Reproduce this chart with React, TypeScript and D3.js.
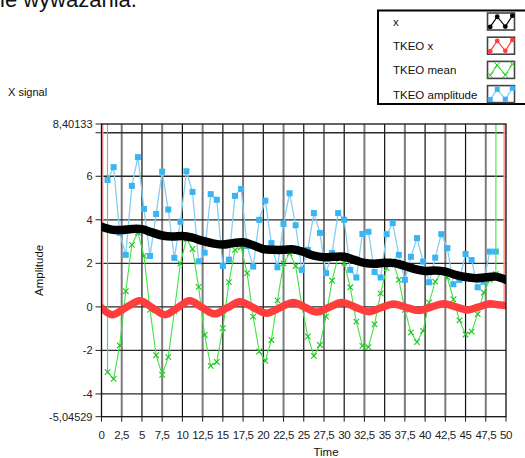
import React, { useEffect, useRef } from "react";
import * as d3 from "d3";

const W = 525;
const H = 458;
// plot area in page pixels
const PL = 101.5, PR = 506, PT = 124, PB = 416.7;

const yMin = -5.04529;
const yMax = 8.40133;

const xTicks = [0, 2.5, 5, 7.5, 10, 12.5, 15, 17.5, 20, 22.5, 25, 27.5, 30, 32.5, 35, 37.5, 40, 42.5, 45, 47.5, 50];
const yTicks = [-5.04529, -4, -2, 0, 2, 4, 6, 8, 8.40133];
const yTickLabels = ["-5,04529", "-4", "-2", "0", "2", "4", "6", "", "8,40133"];

const legendNames = ["x", "TKEO x", "TKEO mean", "TKEO amplitude"];

// x signal, sampled every 1.25 s
const X_STEP = 1.25;
const xSignal = [
  3.68, 3.55, 3.53, 3.58, 3.57, 3.42, 3.28, 3.23, 3.26, 3.18,
  3.03, 2.92, 2.86, 2.93, 2.97, 2.83, 2.65, 2.62, 2.62, 2.64,
  2.52, 2.35, 2.28, 2.3, 2.3, 2.16, 2.02, 1.98, 2.03, 2.01,
  1.88, 1.73, 1.65, 1.67, 1.62, 1.47, 1.37, 1.32, 1.36, 1.39,
  1.24,
];

// TKEO x (read at its peaks, troughs and crossings)
const tkeoXTime = [
  0, 1.3, 3.0, 4.75, 6.3, 7.85, 9.4, 10.9, 12.45, 14.0, 15.55, 17.1, 18.75, 20.4, 22.05, 23.7, 25.15,
  26.6, 28.15, 29.7, 31.35, 33.0, 34.55, 36.1, 37.65, 39.2, 40.75, 42.3, 43.8, 45.3, 46.65, 48.0, 49.0, 49.8,
];
const tkeoX = [
  -0.05, -0.36, -0.04, 0.28, -0.04, -0.36, -0.04, 0.28, -0.03, -0.32, -0.04, 0.24, -0.03, -0.29, -0.04, 0.2, -0.02,
  -0.24, -0.02, 0.2, -0.01, -0.22, -0.04, 0.13, -0.02, -0.17, -0.01, 0.14, 0.0, -0.14, 0.0, 0.14, 0.1, 0.06,
];
// edge values of TKEO x run off the top of the scale
const tkeoXEdges = [0, 49.8];

// TKEO mean / amplitude, sampled every 0.75 s
const TKEO_STEP = 0.75;
const tkeoMean = [
  1000,
  -3.0, -3.31, -1.77, 0.72, 2.85, 3.41, 2.34, -0.14, -2.22, -3.12,
  -2.31, -0.2, 2.0, 3.11, 2.66, 0.92, -1.29, -2.71, -2.53, -0.98,
  1.14, 2.62, 2.74, 1.55, -0.45, -2.05, -2.48, -1.52, 0.3, 2.0,
  2.47, 1.88, 0.09, -1.36, -2.25, -1.75, -0.45, 1.21, 2.31, 2.02,
  0.9, -0.68, -1.79, -1.85, -0.8, 0.62, 1.78, 2.1, 1.24, -0.14,
  -1.17, -1.62, -1.1, 0.2, 1.16, 1.6, 1.35, 0.35, -0.62, -1.27,
  -1.14, -0.33, 0.66, 1.24, 1.5,
  1000,
];
const tkeoAmplitude = [
  5.83, 6.42, 3.4, 2.39, 5.56, 6.88, 4.5, 2.34, 4.27, 6.21,
  4.47, 2.25, 3.91, 6.23, 5.28, 2.09, 2.49, 5.18, 4.92, 1.88,
  2.17, 5.1, 5.42, 2.8, 1.85, 4.0, 4.88, 2.93, 1.82, 3.81,
  5.22, 3.75, 1.7, 2.62, 4.31, 3.4, 1.55, 2.48, 4.31, 4.0,
  1.7, 1.35, 3.35, 3.45, 1.6, 1.35, 3.34, 3.85, 2.39, 1.24,
  2.3, 3.16, 2.08, 1.13, 2.26, 3.34, 2.7, 1.04, 1.24, 2.43,
  2.15, 0.9, 1.16, 2.54, 2.54,
];

const FONT = "'Liberation Sans', Arial, sans-serif";
const C_BLACK = "#000000";
const C_RED = "#ff3d3d";
const C_PINK = "#ff9c9c";
const C_GREEN = "#3fe43f";
const C_GREEN_MK = "#22c422";
const C_BLUE = "#85cff3";
const C_BLUE_MK = "#3ab5f3";

export default function App() {
  const ref = useRef<SVGSVGElement | null>(null);

  useEffect(() => {
    const svg = d3.select(ref.current);
    svg.selectAll("*").remove();

    const x = d3.scaleLinear().domain([0, 50]).range([PL, PR]);
    const y = d3.scaleLinear().domain([yMin, yMax]).range([PB, PT]);

    // partial title cut at the top (as in the screenshot)
    svg.append("text")
      .attr("x", 0).attr("y", 6.5)
      .attr("font-family", FONT).attr("font-size", 22).attr("fill", "#111")
      .text("ie wyważania.");

    svg.append("text")
      .attr("x", 8).attr("y", 96)
      .attr("font-family", FONT).attr("font-size", 11).attr("fill", "#111")
      .text("X signal");

    svg.append("defs").append("clipPath").attr("id", "plotclip")
      .append("rect").attr("x", PL).attr("y", PT).attr("width", PR - PL).attr("height", PB - PT);

    svg.append("rect")
      .attr("x", PL).attr("y", PT).attr("width", PR - PL).attr("height", PB - PT)
      .attr("fill", "#ffffff");

    // grid
    const grid = svg.append("g");
    xTicks.forEach((t) => {
      if (t === 0 || t === 50) return;
      const major = t % 5 === 0;
      grid.append("line")
        .attr("x1", x(t)).attr("x2", x(t)).attr("y1", PT).attr("y2", PB)
        .attr("stroke", major ? "#111" : "#7c7c7c")
        .attr("stroke-width", major ? 1.2 : 2);
    });
    yTicks.forEach((v) => {
      if (v === yMin || v === yMax) return;
      grid.append("line")
        .attr("x1", PL).attr("x2", PR).attr("y1", y(v)).attr("y2", y(v))
        .attr("stroke", "#2a2a2a").attr("stroke-width", 1.3);
    });

    const plot = svg.append("g").attr("clip-path", "url(#plotclip)");

    // TKEO amplitude
    const ampPts: [number, number][] = tkeoAmplitude.map((v, i) => [x((i + 1) * TKEO_STEP), y(v)]);
    plot.append("path")
      .attr("d", d3.line()(ampPts) as string)
      .attr("fill", "none").attr("stroke", C_BLUE).attr("stroke-width", 1.3);
    plot.selectAll("rect.amp").data(ampPts).enter().append("rect")
      .attr("class", "amp")
      .attr("x", (d) => d[0] - 3).attr("y", (d) => d[1] - 3)
      .attr("width", 6).attr("height", 6).attr("fill", C_BLUE_MK);

    // TKEO mean
    const meanPts: [number, number][] = tkeoMean.map((v, i) => [x(i * TKEO_STEP), y(v)]);
    plot.append("path")
      .attr("d", d3.line()(meanPts) as string)
      .attr("fill", "none").attr("stroke", C_GREEN).attr("stroke-width", 1.1);
    const cross = d3.symbol().type(d3.symbolX).size(22);
    plot.selectAll("path.mean").data(meanPts.slice(1, -1)).enter().append("path")
      .attr("class", "mean")
      .attr("d", cross() as string)
      .attr("transform", (d) => `translate(${d[0]},${d[1]})`)
      .attr("fill", "none").attr("stroke", C_GREEN_MK).attr("stroke-width", 1.1);

    // TKEO x
    tkeoXEdges.forEach((t, k) => {
      plot.append("line")
        .attr("x1", x(t) + (k === 0 ? 1 : 0)).attr("x2", x(t) + (k === 0 ? 1 : 0))
        .attr("y1", y(yMax)).attr("y2", y(k === 0 ? tkeoX[0] : tkeoX[tkeoX.length - 1]))
        .attr("stroke", C_PINK).attr("stroke-width", 2);
    });
    const redLine = d3.line<number>()
      .x((_, i) => x(tkeoXTime[i]))
      .y((v) => y(v))
      .curve(d3.curveCatmullRom.alpha(0.5));
    plot.append("path")
      .attr("d", redLine(tkeoX) as string)
      .attr("fill", "none").attr("stroke", C_RED).attr("stroke-width", 7.5)
      .attr("stroke-linecap", "round").attr("stroke-linejoin", "round");

    // x signal
    const blackLine = d3.line<number>()
      .x((_, i) => x(i * X_STEP))
      .y((v) => y(v))
      .curve(d3.curveCatmullRom.alpha(0.5));
    plot.append("path")
      .attr("d", blackLine(xSignal) as string)
      .attr("fill", "none").attr("stroke", C_BLACK).attr("stroke-width", 8.5)
      .attr("stroke-linecap", "round").attr("stroke-linejoin", "round");

    // frame
    svg.append("rect")
      .attr("x", PL).attr("y", PT).attr("width", PR - PL).attr("height", PB - PT)
      .attr("fill", "none").attr("stroke", "#111").attr("stroke-width", 1.3);

    // y axis ticks + labels
    const yAxis = svg.append("g");
    yTicks.forEach((v, i) => {
      yAxis.append("line")
        .attr("x1", PL - 6).attr("x2", PL).attr("y1", y(v)).attr("y2", y(v))
        .attr("stroke", "#222").attr("stroke-width", 1);
      if (yTickLabels[i]) {
        yAxis.append("text")
          .attr("x", PL - 9).attr("y", y(v)).attr("dy", "0.35em")
          .attr("text-anchor", "end")
          .attr("font-family", FONT).attr("font-size", 11).attr("fill", "#222")
          .text(yTickLabels[i]);
      }
    });

    // x axis ticks + labels
    const xAxis = svg.append("g");
    xTicks.forEach((t) => {
      xAxis.append("line")
        .attr("x1", x(t)).attr("x2", x(t)).attr("y1", PB).attr("y2", PB + 5)
        .attr("stroke", "#222").attr("stroke-width", 1);
      xAxis.append("text")
        .attr("x", x(t)).attr("y", PB + 22)
        .attr("text-anchor", "middle")
        .attr("font-family", FONT).attr("font-size", 11.5).attr("letter-spacing", -0.4)
        .attr("fill", "#222")
        .text(String(t).replace(".", ","));
    });

    svg.append("text")
      .attr("x", 326).attr("y", 456)
      .attr("text-anchor", "middle")
      .attr("font-family", FONT).attr("font-size", 11.5).attr("fill", "#111")
      .text("Time");

    svg.append("text")
      .attr("transform", `translate(43, ${(PT + PB) / 2}) rotate(-90)`)
      .attr("text-anchor", "middle")
      .attr("font-family", FONT).attr("font-size", 11.5).attr("fill", "#111")
      .text("Amplitude");

    // legend
    const lg = svg.append("g");
    lg.append("rect")
      .attr("x", 378).attr("y", 10.5).attr("width", 160).attr("height", 93.5)
      .attr("fill", "#ffffff").attr("stroke", "#000").attr("stroke-width", 2);
    const styles = [
      { line: C_BLACK, mk: C_BLACK, shape: "dot" },
      { line: C_RED, mk: C_RED, shape: "dot" },
      { line: C_GREEN, mk: C_GREEN_MK, shape: "x" },
      { line: C_BLUE, mk: C_BLUE_MK, shape: "sq" },
    ];
    legendNames.forEach((name, i) => {
      const cy = 21.5 + i * 24.2;
      lg.append("text")
        .attr("x", 393).attr("y", cy + 4.5)
        .attr("font-family", FONT).attr("font-size", 11.5).attr("fill", "#111")
        .text(name);
      const bx = 487.5, by = cy - 8.5, bw = 27, bh = 17;
      lg.append("rect")
        .attr("x", bx).attr("y", by).attr("width", bw).attr("height", bh)
        .attr("fill", "#fff").attr("stroke", "#444").attr("stroke-width", 1.6);
      const fx = [0.1, 0.36, 0.66, 0.92];
      const fy = [0.82, 0.22, 0.8, 0.16];
      const pts: [number, number][] = fx.map((f, k) => [bx + f * bw, by + fy[k] * bh]);
      const st = styles[i];
      lg.append("path")
        .attr("d", d3.line()(pts) as string)
        .attr("fill", "none").attr("stroke", st.line).attr("stroke-width", 1.2);
      pts.forEach((p) => {
        if (st.shape === "dot") {
          lg.append("circle").attr("cx", p[0]).attr("cy", p[1]).attr("r", 2.4).attr("fill", st.mk);
        } else if (st.shape === "sq") {
          lg.append("rect").attr("x", p[0] - 2.5).attr("y", p[1] - 2.5).attr("width", 5).attr("height", 5).attr("fill", st.mk);
        } else {
          lg.append("path").attr("d", cross() as string)
            .attr("transform", `translate(${p[0]},${p[1]})`)
            .attr("fill", "none").attr("stroke", st.mk).attr("stroke-width", 1);
        }
      });
    });
  }, []);

  return (
    <svg
      ref={ref}
      width={W}
      height={H}
      style={{ position: "absolute", left: 0, top: 0, background: "#fff" }}
    />
  );
}
